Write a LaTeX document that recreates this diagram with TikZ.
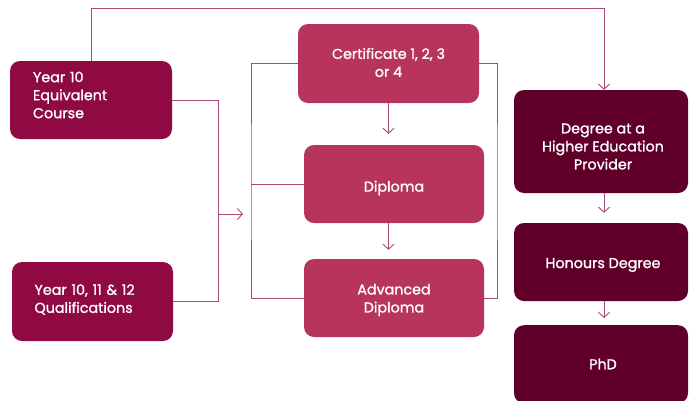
\documentclass[tikz,border=0pt]{standalone}
\usepackage{fontspec}
\setmainfont{Poppins}[FakeBold=1.2]
\usetikzlibrary{arrows.meta}
\definecolor{cA}{RGB}{143,10,67}
\definecolor{cB}{RGB}{183,52,92}
\definecolor{cC}{RGB}{96,0,42}
\definecolor{cL}{RGB}{168,72,120}
\tikzset{
  box/.style={rectangle, rounded corners=10pt, inner sep=0pt},
  txt/.style={text=white, font=\fontsize{14.3}{18}\selectfont, inner sep=0pt, align=center},
  ltxt/.style={txt, align=left, text width=116pt},
  lbox/.style={box, fill=cA, minimum width=162pt, minimum height=78pt},
  mbox/.style={box, fill=cB, minimum width=180pt, minimum height=78pt},
  rbox/.style={box, fill=cC, minimum width=174pt, minimum height=78pt},
  conn/.style={draw=cL, line width=0.9pt},
  tip/.style={conn, -{Straight Barb[length=5pt,width=11pt]}}
}
\begin{document}
\begin{tikzpicture}[x=1pt,y=-1pt]
\useasboundingbox (0,0) rectangle (689,400);
\clip (0,0) rectangle (689,400);
\node[lbox] (y10e) at (91,100) {};
\node[ltxt, yshift=5pt] (ty10e) at (y10e.center) {Year 10\\Equivalent\\Course};
\node[lbox, minimum width=161pt, minimum height=79pt] (y10q) at (92.5,301.5) {};
\node[ltxt, yshift=2pt] (ty10q) at (y10q.center) {Year 10, 11 \& 12\\Qualifications};
\node[mbox, minimum width=181pt, minimum height=79pt] (cert) at (388.5,63.5) {};
\node[txt, yshift=1pt] (tcert) at (cert.center) {Certificate 1, 2, 3\\or 4};
\node[mbox] (dip) at (394,184) {};
\node[txt, yshift=-4pt] (tdip) at (dip.center) {Diploma};
\node[mbox] (adv) at (394,298) {};
\node[txt, yshift=-2pt] (tadv) at (adv.center) {Advanced\\Diploma};
\node[rbox, minimum height=103pt] (deg) at (601,141.5) {};
\node[txt, yshift=-5pt, xshift=2pt] (tdeg) at (deg.center) {Degree at a\\Higher Education\\Provider};
\node[rbox] (hon) at (601,262) {};
\node[txt, yshift=-3pt, xshift=2pt] (thon) at (hon.center) {Honours Degree};
\node[rbox, anchor=north] (phd) at (601,325) {};
\node[txt, xshift=2pt] (tphd) at (601,364) {PhD};
% connectors
\draw[tip] (y10e.north) -- (y10e.north |- 0,8) -| ([xshift=3pt]deg.north);
\draw[conn] (y10e.east) -- (218,100) |- (y10q.east);
\coordinate (ja) at (218,214);
\coordinate (jb) at (243,214);
\draw[tip] (ja) -- (jb);
\coordinate (lb) at (251,184);
\coordinate (rb) at (497,184);
\draw[conn] (cert.west) -| (lb) |- (adv.west);
\draw[conn] (dip.west) -- (lb);
\draw[conn] (cert.east) -| (rb) |- (adv.east);
\draw[tip, shorten >=11pt] (cert.south) -- (cert.south |- dip.north);
\draw[tip, shorten >=9pt] (cert.south |- dip.south) -- (cert.south |- adv.north);
\draw[tip, shorten >=10pt] ([xshift=3pt]deg.south) -- ([xshift=3pt]hon.north);
\draw[tip, shorten >=7pt] ([xshift=3pt]hon.south) -- ([xshift=3pt]phd.north);
\end{tikzpicture}
\end{document}
